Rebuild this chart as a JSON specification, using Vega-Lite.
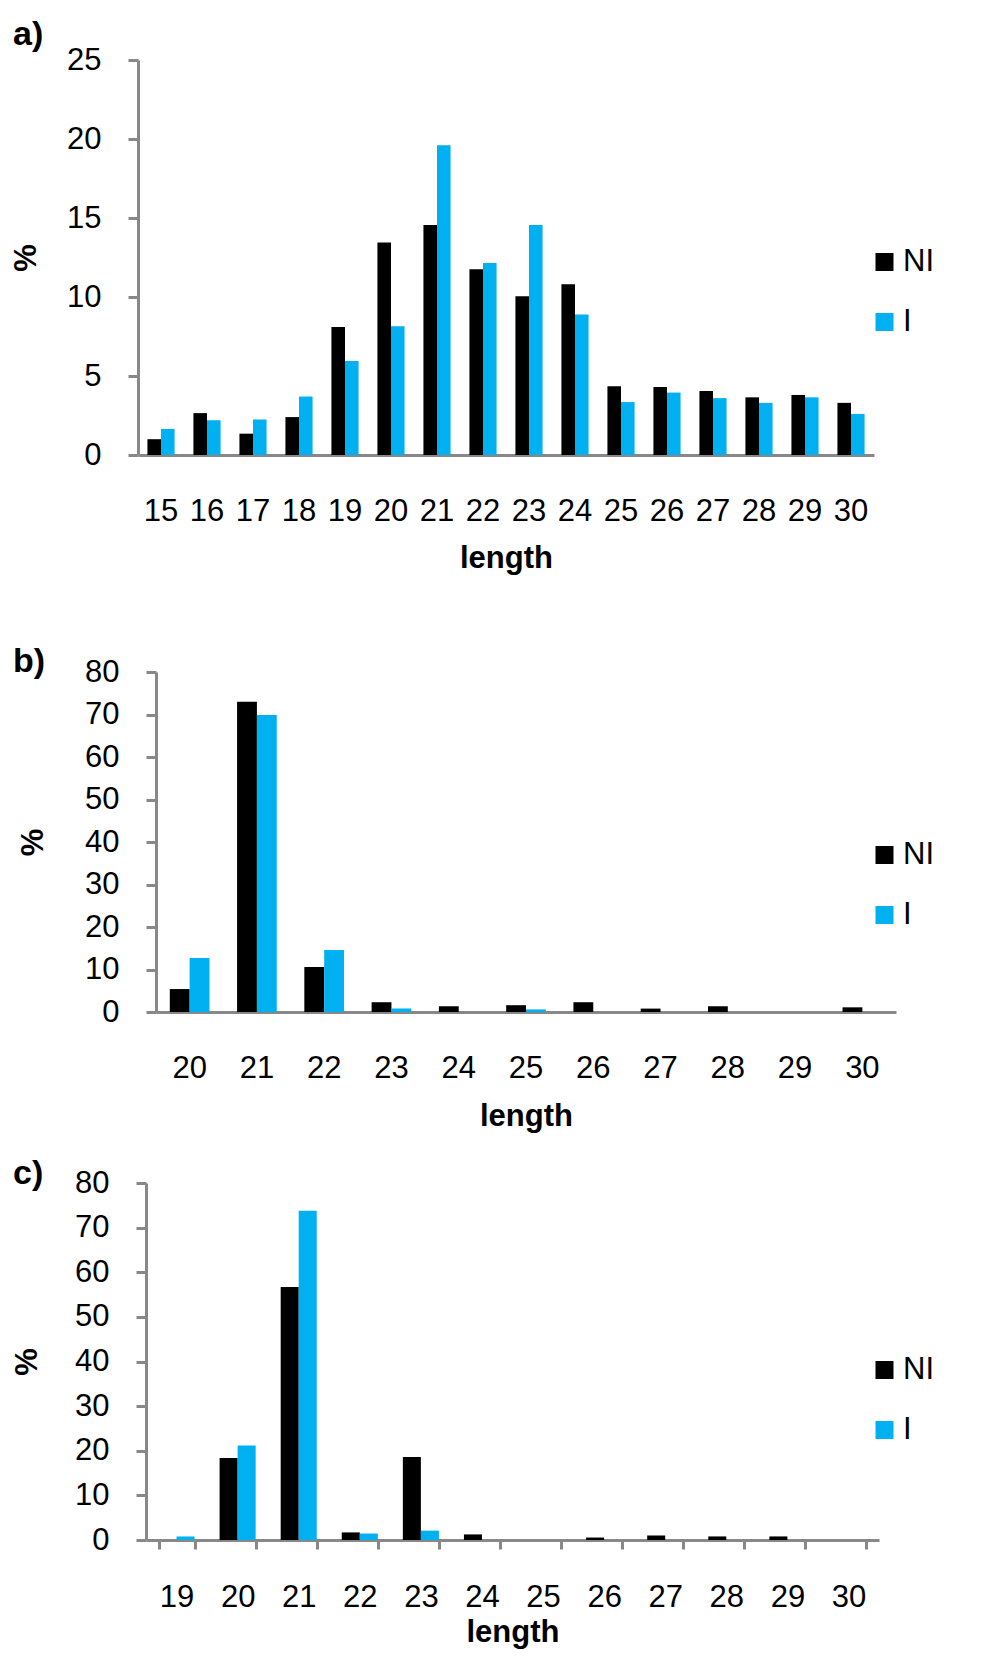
{
  "$schema": "https://vega.github.io/schema/vega-lite/v6.json",
  "background": "white",
  "padding": {"left": 10, "top": 17, "right": 5, "bottom": 5},
  "config": {
    "view": {"stroke": null},
    "font": "Liberation Sans",
    "axis": {
      "labelFont": "Liberation Sans",
      "titleFont": "Liberation Sans",
      "labelColor": "#000000",
      "titleColor": "#000000",
      "domainColor": "#888888",
      "tickColor": "#888888",
      "grid": false,
      "labelFontSize": 31,
      "titleFontSize": 31,
      "titleFontWeight": "bold",
      "domainWidth": 3,
      "tickWidth": 3,
      "zindex": 1
    },
    "legend": {
      "symbolType": "square",
      "symbolSize": 324,
      "symbolStrokeWidth": 0,
      "symbolOpacity": 1,
      "labelFont": "Liberation Sans",
      "labelFontSize": 31,
      "labelColor": "#000000",
      "labelOffset": 3,
      "rowPadding": 28,
      "padding": 0,
      "labelBaseline": "middle"
    }
  },
  "datasets": {
    "a": [
      {"length": 15, "group": "NI", "pct": 1.0}, {"length": 15, "group": "I", "pct": 1.65},
      {"length": 16, "group": "NI", "pct": 2.65}, {"length": 16, "group": "I", "pct": 2.2},
      {"length": 17, "group": "NI", "pct": 1.35}, {"length": 17, "group": "I", "pct": 2.25},
      {"length": 18, "group": "NI", "pct": 2.4}, {"length": 18, "group": "I", "pct": 3.7},
      {"length": 19, "group": "NI", "pct": 8.1}, {"length": 19, "group": "I", "pct": 5.95},
      {"length": 20, "group": "NI", "pct": 13.45}, {"length": 20, "group": "I", "pct": 8.15},
      {"length": 21, "group": "NI", "pct": 14.55}, {"length": 21, "group": "I", "pct": 19.6},
      {"length": 22, "group": "NI", "pct": 11.75}, {"length": 22, "group": "I", "pct": 12.15},
      {"length": 23, "group": "NI", "pct": 10.05}, {"length": 23, "group": "I", "pct": 14.55},
      {"length": 24, "group": "NI", "pct": 10.8}, {"length": 24, "group": "I", "pct": 8.9},
      {"length": 25, "group": "NI", "pct": 4.35}, {"length": 25, "group": "I", "pct": 3.35},
      {"length": 26, "group": "NI", "pct": 4.3}, {"length": 26, "group": "I", "pct": 3.95},
      {"length": 27, "group": "NI", "pct": 4.05}, {"length": 27, "group": "I", "pct": 3.6},
      {"length": 28, "group": "NI", "pct": 3.65}, {"length": 28, "group": "I", "pct": 3.3},
      {"length": 29, "group": "NI", "pct": 3.8}, {"length": 29, "group": "I", "pct": 3.65},
      {"length": 30, "group": "NI", "pct": 3.3}, {"length": 30, "group": "I", "pct": 2.6}
    ],
    "b": [
      {"length": 20, "group": "NI", "pct": 5.4}, {"length": 20, "group": "I", "pct": 12.7},
      {"length": 21, "group": "NI", "pct": 73.0}, {"length": 21, "group": "I", "pct": 69.9},
      {"length": 22, "group": "NI", "pct": 10.6}, {"length": 22, "group": "I", "pct": 14.6},
      {"length": 23, "group": "NI", "pct": 2.3}, {"length": 23, "group": "I", "pct": 0.85},
      {"length": 24, "group": "NI", "pct": 1.35}, {"length": 24, "group": "I", "pct": 0},
      {"length": 25, "group": "NI", "pct": 1.6}, {"length": 25, "group": "I", "pct": 0.6},
      {"length": 26, "group": "NI", "pct": 2.3}, {"length": 26, "group": "I", "pct": 0},
      {"length": 27, "group": "NI", "pct": 0.8}, {"length": 27, "group": "I", "pct": 0},
      {"length": 28, "group": "NI", "pct": 1.35}, {"length": 28, "group": "I", "pct": 0},
      {"length": 29, "group": "NI", "pct": 0}, {"length": 29, "group": "I", "pct": 0},
      {"length": 30, "group": "NI", "pct": 1.1}, {"length": 30, "group": "I", "pct": 0}
    ],
    "c": [
      {"length": 19, "group": "NI", "pct": 0}, {"length": 19, "group": "I", "pct": 0.8},
      {"length": 20, "group": "NI", "pct": 18.35}, {"length": 20, "group": "I", "pct": 21.2},
      {"length": 21, "group": "NI", "pct": 56.7}, {"length": 21, "group": "I", "pct": 73.8},
      {"length": 22, "group": "NI", "pct": 1.7}, {"length": 22, "group": "I", "pct": 1.45},
      {"length": 23, "group": "NI", "pct": 18.6}, {"length": 23, "group": "I", "pct": 2.1},
      {"length": 24, "group": "NI", "pct": 1.25}, {"length": 24, "group": "I", "pct": 0},
      {"length": 25, "group": "NI", "pct": 0}, {"length": 25, "group": "I", "pct": 0},
      {"length": 26, "group": "NI", "pct": 0.55}, {"length": 26, "group": "I", "pct": 0},
      {"length": 27, "group": "NI", "pct": 1.0}, {"length": 27, "group": "I", "pct": 0},
      {"length": 28, "group": "NI", "pct": 0.8}, {"length": 28, "group": "I", "pct": 0},
      {"length": 29, "group": "NI", "pct": 0.8}, {"length": 29, "group": "I", "pct": 0},
      {"length": 30, "group": "NI", "pct": 0}, {"length": 30, "group": "I", "pct": 0}
    ]
  },
  "bounds": "flush",
  "spacing": 171,
  "resolve": {
    "scale": {"color": "independent", "x": "independent", "y": "independent", "xOffset": "independent"},
    "legend": {"color": "independent"}
  },
  "vconcat": [
    {
      "width": 736,
      "height": 395,
      "title": {"text": "a)", "anchor": "start", "frame": "group", "dx": -125, "offset": -24.5, "baseline": "middle", "fontSize": 34, "fontWeight": "bold", "color": "#000000", "font": "Liberation Sans"},
      "data": {"name": "a"},
      "mark": {"type": "bar"},
      "encoding": {
        "x": {"field": "length", "type": "ordinal", "title": "length",
              "scale": {"paddingInner": 0.41, "paddingOuter": 0.205},
              "axis": {"labelAngle": 0, "ticks": false, "tickSize": 0, "labelPadding": 41, "titlePadding": 17}},
        "xOffset": {"field": "group", "type": "nominal", "sort": ["NI", "I"], "scale": {"paddingInner": 0, "paddingOuter": 0}},
        "y": {"field": "pct", "type": "quantitative", "title": "%",
              "scale": {"domain": [0, 25], "nice": false},
              "axis": {"values": [0, 5, 10, 15, 20, 25], "tickSize": 10, "labelPadding": 27, "titleX": -112, "titleBaseline": "middle", "titleAngle": -90}},
        "color": {"field": "group", "type": "nominal", "sort": ["NI", "I"],
                  "scale": {"domain": ["NI", "I"], "range": ["#000000", "#00B0F0"]},
                  "legend": {"orient": "none", "legendX": 731, "legendY": 186.5, "title": null}}
      }
    },
    {
      "width": 758,
      "height": 386,
      "title": {"text": "b)", "anchor": "start", "frame": "group", "dx": -125, "offset": -70, "baseline": "middle", "fontSize": 34, "fontWeight": "bold", "color": "#000000", "font": "Liberation Sans"},
      "data": {"name": "b"},
      "mark": {"type": "bar"},
      "encoding": {
        "x": {"field": "length", "type": "ordinal", "title": "length",
              "scale": {"paddingInner": 0.41, "paddingOuter": 0.205, "range": [18, 758]},
              "axis": {"labelAngle": 0, "ticks": false, "tickSize": 0, "labelPadding": 41, "titlePadding": 18}},
        "xOffset": {"field": "group", "type": "nominal", "sort": ["NI", "I"], "scale": {"paddingInner": 0, "paddingOuter": 0}},
        "y": {"field": "pct", "type": "quantitative", "title": "%",
              "scale": {"domain": [0, 80], "nice": false, "range": [386, 46]},
              "axis": {"values": [0, 10, 20, 30, 40, 50, 60, 70, 80], "offset": -18, "tickSize": 10, "labelPadding": 27, "titleX": -122.5, "titleBaseline": "middle", "titleAngle": -90}},
        "color": {"field": "group", "type": "nominal", "sort": ["NI", "I"],
                  "scale": {"domain": ["NI", "I"], "range": ["#000000", "#00B0F0"]},
                  "legend": {"orient": "none", "legendX": 731, "legendY": 213.5, "title": null}}
      }
    },
    {
      "width": 741,
      "height": 357,
      "title": {"text": "c)", "anchor": "start", "frame": "group", "dx": -125, "offset": -41, "baseline": "middle", "fontSize": 34, "fontWeight": "bold", "color": "#000000", "font": "Liberation Sans"},
      "data": {"name": "c"},
      "mark": {"type": "bar"},
      "encoding": {
        "x": {"field": "length", "type": "ordinal", "title": "length",
              "scale": {"paddingInner": 0.41, "paddingOuter": 0.205, "range": [8, 741]},
              "axis": {"labelAngle": 0, "ticks": true, "tickBand": "extent", "tickSize": 9, "labelPadding": 33, "titlePadding": 5}},
        "xOffset": {"field": "group", "type": "nominal", "sort": ["NI", "I"], "scale": {"paddingInner": 0, "paddingOuter": 0}},
        "y": {"field": "pct", "type": "quantitative", "title": "%",
              "scale": {"domain": [0, 80], "nice": false},
              "axis": {"values": [0, 10, 20, 30, 40, 50, 60, 70, 80], "offset": -8, "tickSize": 10, "labelPadding": 27, "titleX": -119, "titleBaseline": "middle", "titleAngle": -90}},
        "color": {"field": "group", "type": "nominal", "sort": ["NI", "I"],
                  "scale": {"domain": ["NI", "I"], "range": ["#000000", "#00B0F0"]},
                  "legend": {"orient": "none", "legendX": 731, "legendY": 171.5, "title": null}}
      }
    }
  ]
}
